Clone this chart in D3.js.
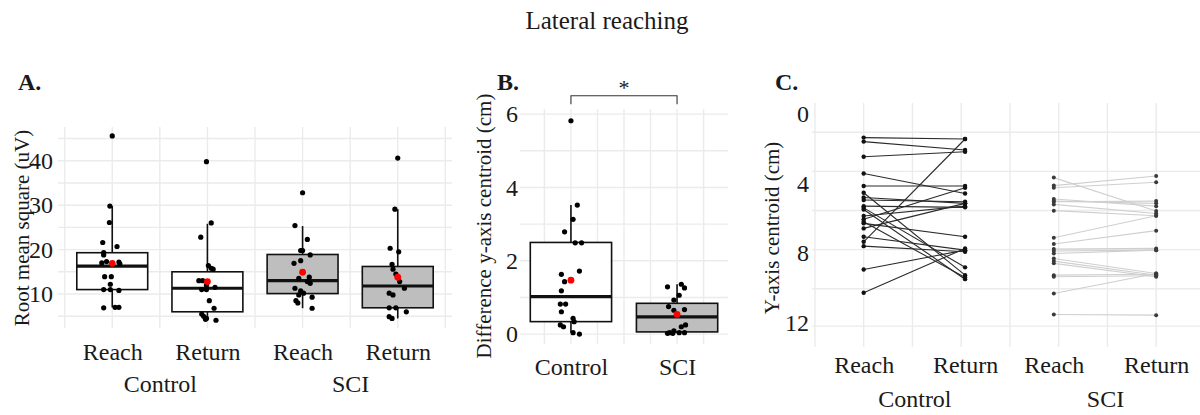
<!DOCTYPE html>
<html>
<head>
<meta charset="utf-8">
<script src="https://cdn.jsdelivr.net/npm/d3@7"></script>
<style>
  body { margin: 0; background: #fff; }
  text { font-family: "Liberation Serif", "Times New Roman", serif; fill: #1a1a1a; }
</style>
</head>
<body>
<div id="chart"></div>
<script>
// ---------------------------------------------------------------- data
var title = "Lateral reaching";
var phases = ["Reach", "Return", "Reach", "Return"];
var groups = ["Control", "SCI"];

// A. RMS (uV): box stats per box (Control Reach, Control Return, SCI Reach, SCI Return)
var rmsQ1 = [11.0, 6.0, 10.1, 6.9];
var rmsMedian = [16.3, 11.3, 13.0, 11.8];
var rmsQ3 = [19.3, 15.0, 18.9, 16.2];
var rmsLow = [7.0, 4.3, 6.8, 4.5];
var rmsHigh = [29.8, 25.8, 25.3, 29.1];
var rmsMean = [16.9, 12.8, 14.9, 13.8];
// points: [jitter (category units), value]
var rmsCtrlReach = [[0, 45.6], [-0.025, 29.8], [-0.03, 26.1], [-0.1, 21.6], [0.05, 20.7], [-0.09, 19.3], [-0.09, 18.8], [-0.06, 17.3], [0.07, 17.2], [0.08, 16.8], [-0.11, 17.0],
  [-0.08, 13.9], [-0.01, 13.9], [-0.02, 12.2], [-0.09, 11.0], [-0.02, 11.0], [0.07, 10.8], [-0.09, 6.9], [0.03, 7.0], [0.07, 7.0]];
var rmsCtrlReturn = [[-0.01, 39.8], [0.04, 26.0], [-0.07, 22.8], [0.01, 16.4], [0.04, 15.8], [0.06, 15.6], [-0.09, 13.0], [-0.05, 13.0], [-0.01, 12.0], [-0.06, 11.0],
  [-0.01, 11.0], [0.08, 11.5], [0.02, 8.5], [0.07, 6.8], [-0.06, 5.5], [-0.04, 5.0], [-0.01, 4.5], [0.09, 4.1], [-0.02, 4.3]];
var rmsSciReach = [[0, 32.8], [-0.08, 25.4], [0.05, 22.3], [-0.02, 19.8], [0, 19.8], [0.08, 18.8], [-0.09, 16.9], [-0.02, 17.5], [-0.04, 13.5], [0.07, 13.8],
  [0.08, 12.4], [0.05, 12.8], [-0.08, 11.3], [-0.02, 10.7], [-0.04, 9.8], [0.01, 10.2], [0.1, 9.3], [-0.07, 8.5], [-0.05, 8.0], [0.1, 6.8]];
var rmsSciReturn = [[0, 40.6], [-0.03, 29.1], [-0.08, 20.3], [0.01, 19.5], [-0.06, 16.7], [-0.05, 15.6], [-0.02, 14.5], [0.02, 12.8], [0.07, 11.3], [-0.09, 10.2],
  [-0.05, 9.8], [-0.09, 6.9], [-0.02, 6.9], [0.09, 6.0], [-0.09, 4.9], [-0.06, 4.5]];
var rmsTicks = [10, 20, 30, 40];
var rmsGrid = [5, 10, 15, 20, 25, 30, 35, 40, 45];

// B. difference of y-axis centroid (cm)
var diffQ1 = [0.34, 0.06];
var diffMedian = [1.02, 0.47];
var diffQ3 = [2.50, 0.84];
var diffLow = [0.04, 0.02];
var diffHigh = [3.52, 1.36];
var diffMean = [1.47, 0.54];
var diffCtrl = [[0, 5.82], [0.06, 3.52], [0.02, 3.13], [-0.06, 2.79], [0.04, 2.49], [0.1, 2.49], [-0.09, 1.63], [0.08, 1.72], [-0.06, 1.43], [-0.09, 1.18],
  [-0.1, 0.82], [-0.05, 0.82], [-0.09, 0.61], [0.02, 0.43], [0.03, 0.34], [-0.1, 0.25], [-0.07, 0.20], [0.02, 0.04], [0.08, 0.0]];
var diffSci = [[-0.09, 1.29], [0.04, 1.36], [0.07, 1.26], [0.02, 1.06], [-0.03, 0.93], [-0.08, 0.75], [-0.03, 0.65], [0.07, 0.67], [0.08, 0.25], [0.04, 0.20],
  [-0.03, 0.09], [-0.07, 0.04], [0.02, 0.04], [0.07, 0.04], [-0.04, 0.02], [-0.09, 0.02]];
var diffTicks = [0, 2, 4, 6];
var diffGrid = [0, 1, 2, 3, 4, 5, 6];
var sigBracket = { y: 6.5, tip: 6.27, label: "*" };

// C. y-axis centroid (cm), paired [reach, return]
var centroidX = [1, 2.04, 2.95, 4];
var centroidCtrl = [[1.36, 1.44], [1.59, 2.07], [2.46, 2.17], [3.42, 4.57], [4.14, 4.14], [4.53, 9.27], [4.80, 5.14], [4.95, 5.05], [5.30, 5.37], [5.40, 8.82],
  [5.49, 9.50], [5.87, 5.30], [6.06, 4.24], [6.20, 9.40], [6.29, 7.06], [6.58, 5.14], [7.06, 7.83], [7.35, 1.44], [7.60, 7.92], [8.94, 7.83], [10.28, 7.73]];
var centroidSci = [[3.66, 5.58], [4.12, 3.57], [4.24, 3.93], [4.89, 5.30], [5.01, 5.14], [5.05, 5.01], [5.20, 5.72], [5.56, 5.85], [7.12, 5.85], [7.48, 6.71],
  [7.77, 7.73], [7.88, 7.83], [8.02, 7.83], [8.31, 9.17], [8.46, 9.27], [8.59, 9.36], [9.27, 9.22], [9.36, 9.30], [10.32, 9.17], [11.53, 11.57]];
var centroidTicks = [0, 4, 8, 12];
var centroidGrid = [1.05, 3.3, 5.55, 7.8, 10.05, 12.2];

// ---------------------------------------------------------------- setup
var serif = "'Liberation Serif', 'Times New Roman', serif";
var svg = d3.select("#chart").append("svg").attr("width", 1200).attr("height", 415);
svg.append("rect").attr("width", 1200).attr("height", 415).attr("fill", "#fff");

var gridColor = "#ebebeb";
var boxFill = ["#ffffff", "#ffffff", "#bebebe", "#bebebe"];

svg.append("text").attr("x", 607).attr("y", 29).attr("text-anchor", "middle").style("font-size", "25px").text(title);

function panelLetter(x, txt) {
  svg.append("text").attr("x", x).attr("y", 90).style("font-size", "24px").style("font-weight", "bold").text(txt);
}
panelLetter(18, "A.");
panelLetter(497, "B.");
panelLetter(775, "C.");

function drawGrid(g, x, y, xVals, yVals) {
  var xr = x.range(), yr = y.range();
  g.selectAll(".hg").data(yVals).join("line").attr("class", "hg")
    .attr("x1", xr[0]).attr("x2", xr[1]).attr("y1", d => y(d)).attr("y2", d => y(d))
    .attr("stroke", gridColor).attr("stroke-width", 1.4);
  g.selectAll(".vg").data(xVals).join("line").attr("class", "vg")
    .attr("x1", d => x(d)).attr("x2", d => x(d)).attr("y1", yr[0]).attr("y2", yr[1])
    .attr("stroke", gridColor).attr("stroke-width", 1.4);
}

function yAxis(g, y, ticks, xPos) {
  g.append("g").attr("transform", "translate(" + xPos + ",0)")
    .call(d3.axisLeft(y).tickValues(ticks).tickFormat(d3.format("d")).tickSize(0).tickPadding(0))
    .attr("font-family", serif)
    .call(a => a.select(".domain").remove())
    .selectAll("text").style("font-size", "24px").style("font-family", serif).attr("fill", "#1a1a1a");
}

function xAxis(g, x, vals, labels, baseline) {
  g.append("g").attr("transform", "translate(0," + baseline + ")")
    .call(d3.axisBottom(x).tickValues(vals).tickFormat((d, i) => labels[i]).tickSize(0))
    .attr("font-family", serif)
    .call(a => a.select(".domain").remove())
    .selectAll("text").attr("y", 0).attr("dy", 0).style("font-size", "24px").style("font-family", serif).attr("fill", "#1a1a1a");
}

function yTitle(x, yMid, txt) {
  svg.append("text").attr("transform", "translate(" + x + "," + yMid + ") rotate(-90)")
    .attr("text-anchor", "middle").style("font-size", "21px").text(txt);
}

function boxes(g, x, y, q1, med, q3, lo, hi, mean, pts, fills, width) {
  var idx = d3.range(q1.length);
  var half = (x(1 + width / 2) - x(1));
  var bx = g.selectAll(".box").data(idx).join("g").attr("class", "box");
  bx.append("line").attr("x1", i => x(i + 1)).attr("x2", i => x(i + 1)).attr("y1", i => y(q3[i])).attr("y2", i => y(hi[i]))
    .attr("stroke", "#111").attr("stroke-width", 1.6);
  bx.append("line").attr("x1", i => x(i + 1)).attr("x2", i => x(i + 1)).attr("y1", i => y(q1[i])).attr("y2", i => y(lo[i]))
    .attr("stroke", "#111").attr("stroke-width", 1.6);
  bx.append("rect").attr("x", i => x(i + 1) - half).attr("width", 2 * half)
    .attr("y", i => y(q3[i])).attr("height", i => y(q1[i]) - y(q3[i]))
    .attr("fill", i => fills[i]).attr("stroke", "#111").attr("stroke-width", 1.6);
  bx.append("line").attr("x1", i => x(i + 1) - half).attr("x2", i => x(i + 1) + half)
    .attr("y1", i => y(med[i])).attr("y2", i => y(med[i])).attr("stroke", "#111").attr("stroke-width", 3.2);
  pts.forEach(function (set, i) {
    g.append("g").selectAll("circle").data(set).join("circle")
      .attr("cx", d => x(i + 1 + d[0])).attr("cy", d => y(d[1])).attr("r", 2.6).attr("fill", "#000");
  });
  g.selectAll(".mean").data(idx).join("circle").attr("class", "mean")
    .attr("cx", i => x(i + 1)).attr("cy", i => y(mean[i])).attr("r", 3.4).attr("fill", "#ff0000");
}

// ---------------------------------------------------------------- A
var xA = d3.scaleLinear().domain([0.43, 4.57]).range([58, 452]);
var yA = d3.scaleLinear().domain([2.35, 47.6]).range([328, 127]);
var gA = svg.append("g");
drawGrid(gA, xA, yA, d3.range(0.5, 4.6, 0.5), rmsGrid);
boxes(gA, xA, yA, rmsQ1, rmsMedian, rmsQ3, rmsLow, rmsHigh, rmsMean,
  [rmsCtrlReach, rmsCtrlReturn, rmsSciReach, rmsSciReturn], boxFill, 0.745);
yAxis(gA, yA, rmsTicks, 53);
xAxis(gA, xA, [1, 2, 3, 4], phases, 360);
xAxis(gA, xA, [1.5, 3.5], groups, 392);
yTitle(29, 228, "Root mean square (uV)");

// ---------------------------------------------------------------- B
var xB = d3.scaleLinear().domain([0.52, 2.48]).range([520, 728]);
var yB = d3.scaleLinear().domain([-0.27, 6.14]).range([344, 109]);
var gB = svg.append("g");
drawGrid(gB, xB, yB, d3.range(0.75, 2.3, 0.25), diffGrid);
boxes(gB, xB, yB, diffQ1, diffMedian, diffQ3, diffLow, diffHigh, diffMean, [diffCtrl, diffSci], ["#ffffff", "#bebebe"], 0.766);
yAxis(gB, yB, diffTicks, 518);
xAxis(gB, xB, [1, 2], groups, 375);
yTitle(491, 226, "Difference y-axis centroid (cm)");
gB.append("path")
  .attr("d", "M" + xB(1) + "," + yB(sigBracket.tip) + "V" + yB(sigBracket.y) + "H" + xB(2) + "V" + yB(sigBracket.tip))
  .attr("fill", "none").attr("stroke", "#333").attr("stroke-width", 1.1);
gB.append("text").attr("x", (xB(1) + xB(2)) / 2).attr("y", yB(sigBracket.y) - 1).attr("text-anchor", "middle")
  .style("font-size", "22px").attr("fill", "#333").text(sigBracket.label);

// ---------------------------------------------------------------- C
var xC = d3.scaleLinear().domain([0.47, 4.47]).range([812, 1202]);
var yC = d3.scaleLinear().domain([-0.63, 13.4]).range([103, 347]);
var gC = svg.append("g");
drawGrid(gC, xC, yC, d3.range(0.5, 4.6, 0.5), centroidGrid);

function pairs(set, xi, lineColor, dotColor, r) {
  var g = gC.append("g");
  g.selectAll("line").data(set).join("line")
    .attr("x1", xC(centroidX[xi])).attr("x2", xC(centroidX[xi + 1]))
    .attr("y1", d => yC(d[0])).attr("y2", d => yC(d[1]))
    .attr("stroke", lineColor).attr("stroke-width", 1.1);
  g.selectAll(".p0").data(set).join("circle").attr("class", "p0")
    .attr("cx", xC(centroidX[xi])).attr("cy", d => yC(d[0])).attr("r", r).attr("fill", dotColor);
  g.selectAll(".p1").data(set).join("circle").attr("class", "p1")
    .attr("cx", xC(centroidX[xi + 1])).attr("cy", d => yC(d[1])).attr("r", r).attr("fill", dotColor);
}
pairs(centroidSci, 2, "#cfcfcf", "#3a3a3a", 2.0);
pairs(centroidCtrl, 0, "#2b2b2b", "#111", 2.2);

yAxis(gC, yC, centroidTicks, 809);
xAxis(gC, xC, centroidX, phases, 373);
xAxis(gC, xC, [(centroidX[0] + centroidX[1]) / 2, (centroidX[2] + centroidX[3]) / 2], groups, 407);
yTitle(779, 228, "Y-axis centroid (cm)");
</script>
</body>
</html>
